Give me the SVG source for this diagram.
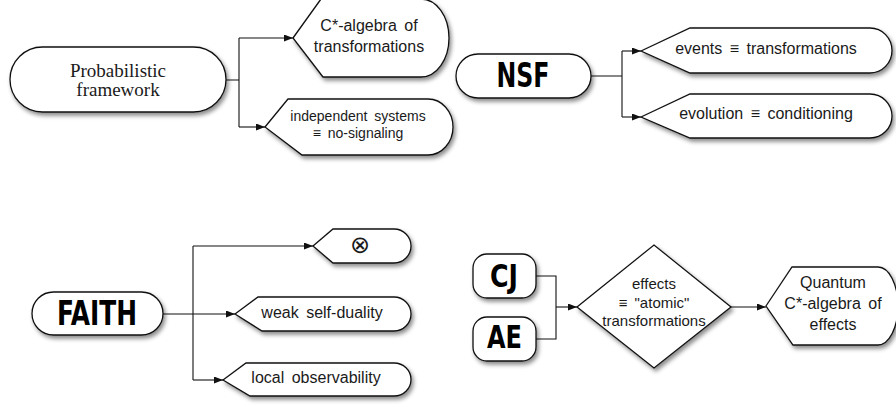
<svg xmlns="http://www.w3.org/2000/svg" width="896" height="407" viewBox="0 0 896 407">
<style>
.shape{fill:#fff;stroke:#111;stroke-width:1.3;filter:url(#sh)}
.conn{fill:none;stroke:#111;stroke-width:1.1}
.arr{marker-end:url(#ah)}
.t{font-family:"Liberation Sans",Arial,sans-serif;font-size:16px;fill:#1a1a1a;text-anchor:middle;word-spacing:3px}
.s14{font-size:14px}
.s15{font-size:15px}
.sym{font-family:"DejaVu Sans",sans-serif;font-size:24px;fill:#1a1a1a;text-anchor:middle}
.serif{font-family:"Liberation Serif","Times New Roman",serif;font-size:19px;fill:#1a1a1a;text-anchor:middle}
.big{font-family:"Liberation Sans Narrow","DejaVu Sans Condensed",Impact,sans-serif;font-weight:bold;font-stretch:condensed;fill:#000;text-anchor:middle}
</style>
<defs>
<filter id="sh" x="-10%" y="-20%" width="125%" height="150%">
<feDropShadow dx="2" dy="3" stdDeviation="2" flood-color="#000" flood-opacity="0.45"/>
</filter>
<marker id="ah" markerUnits="userSpaceOnUse" markerWidth="9" markerHeight="7" refX="9" refY="3.5" orient="auto">
<path d="M0,0 L9,3.5 L0,7 Z" fill="#111"/>
</marker>
</defs>

<g id="connectors">
<path class="conn" d="M226 80 H239 M239 38 V127"/>
<path class="conn arr" d="M239 38 H293"/>
<path class="conn arr" d="M239 127 H265"/>
<path class="conn" d="M591 76 H622 M622 51 V117"/>
<path class="conn arr" d="M622 51 H641"/>
<path class="conn arr" d="M622 117 H641"/>
<path class="conn arr" d="M163 314 H235"/>
<path class="conn" d="M193 246 V380"/>
<path class="conn arr" d="M193 246 H313"/>
<path class="conn arr" d="M193 380 H223"/>
<path class="conn" d="M536 276 H556 V339 H536"/>
<path class="conn arr" d="M556 307 H577"/>
<path class="conn arr" d="M731 307 H766"/>
</g>

<g id="prob">
<rect class="shape" x="10" y="47" width="216" height="65" rx="32.5"/>
<text class="serif" x="118" y="77">Probabilistic</text>
<text class="serif" x="118" y="96">framework</text>
</g>

<g id="cstar">
<path class="shape" d="M293 38 L321 -1 H421 A28 39 0 0 1 421 77 H323 Z"/>
<text class="t" x="369" y="31">C*-algebra of</text>
<text class="t" x="369" y="52">transformations</text>
</g>

<g id="indep">
<path class="shape" d="M265 127 L288 99 H428 A25 28 0 0 1 428 155 H302 Z"/>
<text class="t s14" x="358" y="121">independent systems</text>
<text class="t s14" x="358" y="138">≡ no-signaling</text>
</g>

<g id="nsf">
<rect class="shape" x="456" y="54" width="135" height="44" rx="22"/>
<text class="big" x="523" y="87" font-size="33" textLength="53" lengthAdjust="spacingAndGlyphs">NSF</text>
</g>

<g id="events">
<path class="shape" d="M641 51 L690 28 H870 A22 22.5 0 0 1 870 73 H690 Z"/>
<text class="t" x="766" y="54">events ≡ transformations</text>
</g>

<g id="evolution">
<path class="shape" d="M641 117 L690 94 H870 A22 22 0 0 1 870 138 H690 Z"/>
<text class="t" x="766" y="119">evolution ≡ conditioning</text>
</g>

<g id="faith">
<rect class="shape" x="32" y="292" width="131" height="43" rx="21.5"/>
<text class="big" x="97" y="325" font-size="34" textLength="80" lengthAdjust="spacingAndGlyphs">FAITH</text>
</g>

<g id="otimes">
<path class="shape" d="M313 246 L333 229 H394 A17 17 0 0 1 394 263 H333 Z"/>
<text class="sym" x="360" y="253">⊗</text>
</g>

<g id="weak">
<path class="shape" d="M235 314 L258 297 H394 A17 17 0 0 1 394 331 H262 Z"/>
<text class="t" x="322" y="318">weak self-duality</text>
</g>

<g id="local">
<path class="shape" d="M223 380 L246 363 H394 A17 16.5 0 0 1 394 396 H250 Z"/>
<text class="t" x="316" y="383">local observability</text>
</g>

<g id="cj">
<rect class="shape" x="473" y="254" width="63" height="44" rx="14"/>
<text class="big" x="504" y="287" font-size="32" textLength="28" lengthAdjust="spacingAndGlyphs">CJ</text>
</g>

<g id="ae">
<rect class="shape" x="473" y="317" width="63" height="44" rx="14"/>
<text class="big" x="504.5" y="348" font-size="32" textLength="35" lengthAdjust="spacingAndGlyphs">AE</text>
</g>

<g id="effects">
<path class="shape" d="M577 307 L654 245 L731 307 L654 368 Z"/>
<text class="t s15" x="654" y="289">effects</text>
<text class="t s15" x="654" y="308">≡ "atomic"</text>
<text class="t s15" x="654" y="326">transformations</text>
</g>

<g id="quantum">
<path class="shape" d="M766 306 L792 267 H878 A20 39 0 0 1 878 345 H793 Z"/>
<text class="t" x="833" y="288">Quantum</text>
<text class="t" x="833" y="309">C*-algebra of</text>
<text class="t" x="833" y="330">effects</text>
</g>
</svg>
